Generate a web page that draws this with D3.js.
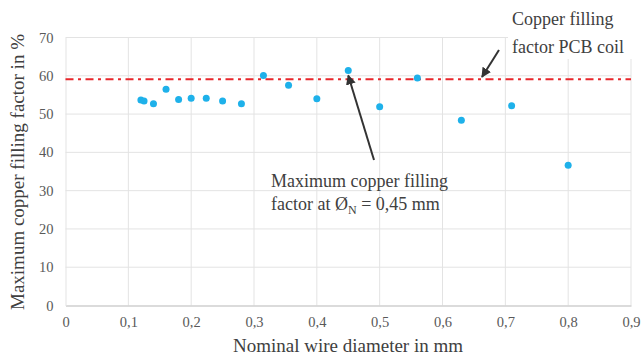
<!DOCTYPE html>
<html>
<head>
  <meta charset="utf-8">
  <title>Maximum copper filling factor</title>
  <style>
    body { margin: 0; background: #fff; }
    svg { display: block; font-family: "Liberation Serif", "Times New Roman", serif; }
    svg text { font-family: "Liberation Serif", "Times New Roman", serif; }
  </style>
</head>
<body>
  <script src="https://cdn.jsdelivr.net/npm/d3@7/dist/d3.min.js"></script>
  <script>
    // wire diameters (mm) and measured max filling factor (%)
    var diameters = [0.12, 0.125, 0.14, 0.16, 0.18, 0.2, 0.224, 0.25, 0.28, 0.315, 0.355, 0.4, 0.45, 0.5, 0.56, 0.63, 0.71, 0.8];
    var fillFactor = [53.7, 53.4, 52.7, 56.5, 53.8, 54.1, 54.1, 53.4, 52.7, 60.1, 57.5, 54.0, 61.4, 51.9, 59.4, 48.4, 52.2, 36.6];
    var pcbFactor = 59.1;
    var xTicks = [0, 0.1, 0.2, 0.3, 0.4, 0.5, 0.6, 0.7, 0.8, 0.9];
    var yTicks = [0, 10, 20, 30, 40, 50, 60, 70];

    var w = 641, h = 362;
    var margin = {left: 65.5, right: 10, top: 37.5, bottom: 56.5};

    var x = d3.scaleLinear().domain([0, 0.9]).range([margin.left, w - margin.right]);
    var y = d3.scaleLinear().domain([0, 70]).range([h - margin.bottom, margin.top]);

    var svg = d3.select("body").append("svg")
        .attr("width", w)
        .attr("height", h);

    // grid
    svg.append("g").selectAll("line.gy")
        .data(yTicks.slice(1))
        .enter().append("line")
        .attr("x1", x(0)).attr("x2", x(0.9))
        .attr("y1", function(d) { return y(d); })
        .attr("y2", function(d) { return y(d); })
        .attr("stroke", "#e3e3e3").attr("stroke-width", 1);

    svg.append("g").selectAll("line.gx")
        .data(xTicks.slice(1))
        .enter().append("line")
        .attr("y1", y(0)).attr("y2", y(70))
        .attr("x1", function(d) { return x(d); })
        .attr("x2", function(d) { return x(d); })
        .attr("stroke", "#e3e3e3").attr("stroke-width", 1);

    // axes
    var fmt = function(d) { return d === 0 ? "0" : d3.format(".1f")(d).replace(".", ","); };
    var xAxis = svg.append("g")
        .attr("transform", "translate(0," + y(0) + ")")
        .call(d3.axisBottom(x).tickValues(xTicks).tickFormat(fmt).tickSize(0).tickPadding(11));
    xAxis.select(".domain").attr("stroke", "#cfcfcf").attr("stroke-width", 1.5);

    var yAxis = svg.append("g")
        .attr("transform", "translate(" + x(0) + ",0)")
        .call(d3.axisLeft(y).tickValues(yTicks).tickSize(0).tickPadding(12));
    yAxis.select(".domain").attr("stroke", "#e3e3e3");

    svg.selectAll("g.tick text")
        .style("font-family", "'Liberation Serif', serif")
        .style("font-size", "14.5px")
        .attr("fill", "#595959");

    // PCB reference line
    svg.append("line")
        .attr("x1", x(0)).attr("x2", x(0.9))
        .attr("y1", y(pcbFactor)).attr("y2", y(pcbFactor))
        .attr("stroke", "#e8262b")
        .attr("stroke-width", 2)
        .attr("stroke-dasharray", "8,4.5,3,4.5");

    // points
    svg.append("g").selectAll("circle")
        .data(diameters)
        .enter().append("circle")
        .attr("cx", function(d) { return x(d); })
        .attr("cy", function(d, i) { return y(fillFactor[i]); })
        .attr("r", 3.5)
        .attr("fill", "#1eb1ea");

    // annotation: PCB coil (white box hides grid)
    svg.append("rect")
        .attr("x", 508).attr("y", 4).attr("width", 130).attr("height", 55)
        .attr("fill", "#fff");
    var t1 = svg.append("text")
        .attr("font-size", 18).attr("fill", "#404040");
    t1.append("tspan").attr("x", 512).attr("y", 25).text("Copper filling");
    t1.append("tspan").attr("x", 512).attr("y", 53).text("factor PCB coil");

    svg.append("defs").append("marker")
        .attr("id", "arr")
        .attr("viewBox", "0 0 10 10")
        .attr("refX", 9).attr("refY", 5)
        .attr("markerWidth", 5).attr("markerHeight", 5)
        .attr("orient", "auto")
        .append("path").attr("d", "M0,0 L10,5 L0,10 z").attr("fill", "#333");

    svg.append("line")
        .attr("x1", 499).attr("y1", 50)
        .attr("x2", 482).attr("y2", 77)
        .attr("stroke", "#333").attr("stroke-width", 2)
        .attr("marker-end", "url(#arr)");

    // annotation: maximum
    svg.append("line")
        .attr("x1", 374).attr("y1", 160)
        .attr("x2", x(0.45)).attr("y2", y(61.4) + 5)
        .attr("stroke", "#333").attr("stroke-width", 2)
        .attr("marker-end", "url(#arr)");

    var t2 = svg.append("text")
        .attr("font-size", 18).attr("fill", "#404040");
    t2.append("tspan").attr("x", 271).attr("y", 187).text("Maximum copper filling");
    t2.append("tspan").attr("x", 271).attr("y", 210).text("factor at \u00D8");
    t2.append("tspan").attr("font-size", 12).attr("dy", 4).text("N");
    t2.append("tspan").attr("dy", -4).text(" = 0,45 mm");

    // axis titles
    svg.append("text")
        .attr("x", 348).attr("y", 352)
        .attr("text-anchor", "middle")
        .attr("font-size", 19).attr("fill", "#404040")
        .text("Nominal wire diameter in mm");

    svg.append("text")
        .attr("transform", "translate(24,172) rotate(-90)")
        .attr("text-anchor", "middle")
        .attr("font-size", 19).attr("fill", "#404040")
        .text("Maximum copper filling factor in %");
  </script>
</body>
</html>
